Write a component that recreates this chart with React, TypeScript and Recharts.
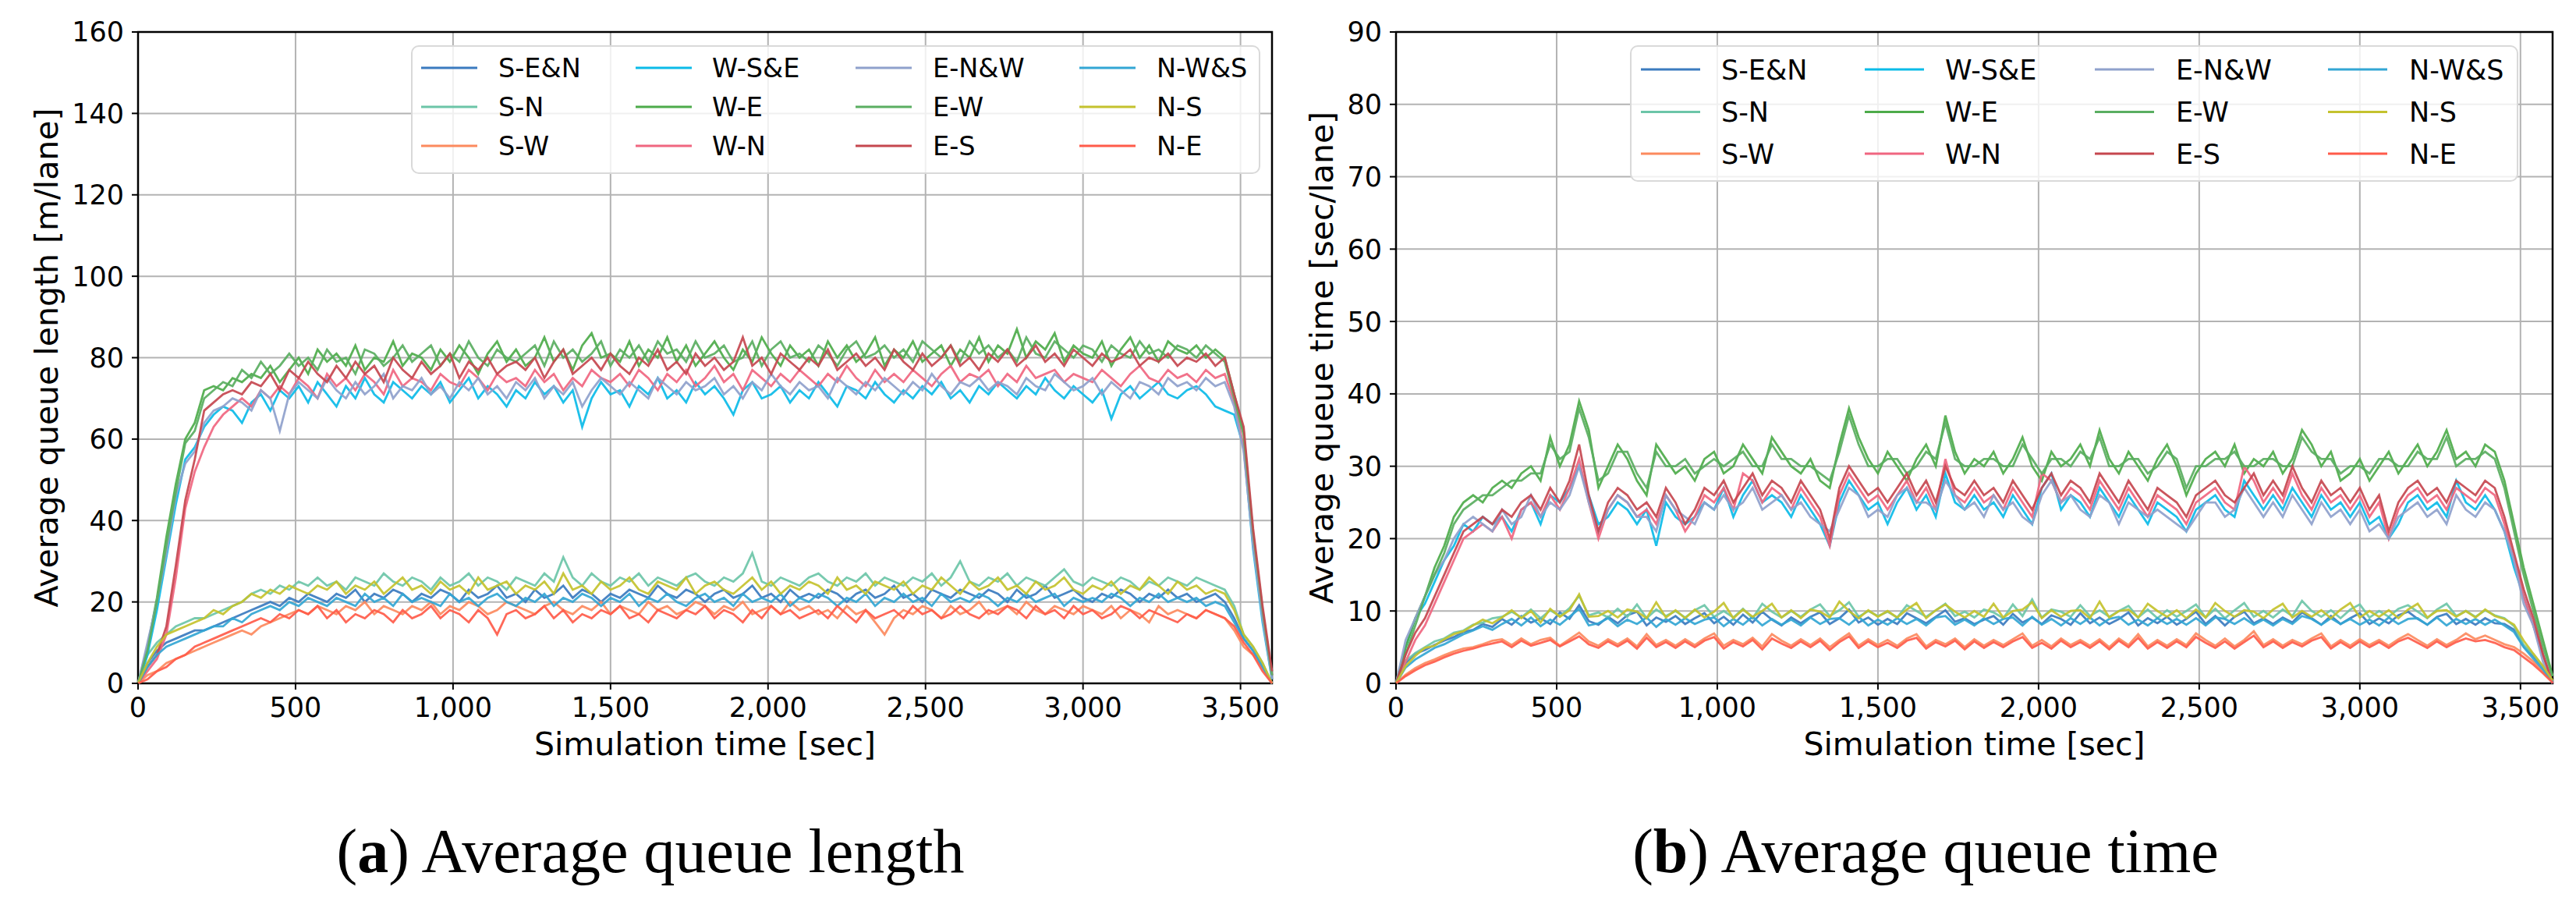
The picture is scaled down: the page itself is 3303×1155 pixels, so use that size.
import { CartesianGrid, Line, LineChart, ReferenceArea, XAxis, YAxis } from 'recharts';

// sampling grid: one reading every 30 s over the one-hour run
const TIME = Array.from({ length: 121 }, (_, i) => i * 30);

const ROUTES = ['S-E&N', 'S-N', 'S-W', 'W-S&E', 'W-E', 'W-N', 'E-N&W', 'E-W', 'E-S', 'N-W&S', 'N-S', 'N-E'];
const COLORS = [
  '#3b7bbf', '#6cc5a8', '#fc8a5e', '#0bbbe8', '#4dab4a', '#f06680',
  '#8fa1cc', '#5aae61', '#c5474f', '#33a6d4', '#c4c22e', '#ff5b4a',
];

const X_TICKS = [0, 500, 1000, 1500, 2000, 2500, 3000, 3500];
const LENGTH_TICKS = [0, 20, 40, 60, 80, 100, 120, 140, 160];
const WAIT_TICKS = [0, 10, 20, 30, 40, 50, 60, 70, 80, 90];

// (a) average queue length [m/lane]
const LEN_S_EN = [0,
  5, 8, 10, 11, 12, 13, 13, 14, 15, 16,
  17, 18, 19, 20, 19, 21, 20, 22, 21, 20,
  22, 21, 23, 20, 22, 21, 23, 22, 20, 22,
  21, 23, 22, 20, 23, 21, 22, 24, 21, 22,
  20, 23, 21, 22, 24, 21, 23, 22, 20, 22,
  21, 23, 22, 21, 24, 22, 21, 23, 22, 20,
  22, 23, 21, 22, 24, 21, 22, 20, 23, 21,
  22, 21, 23, 22, 20, 22, 23, 21, 22, 24,
  21, 22, 20, 23, 22, 21, 23, 22, 21, 23,
  22, 20, 23, 21, 22, 24, 21, 22, 23, 21,
  20, 22, 21, 23, 22, 20, 22, 21, 23, 21,
  22, 20, 21, 22, 20, 16, 11, 8, 4, 0];
const LEN_S_N = [0,
  7, 10, 12, 14, 15, 16, 16, 17, 18, 19,
  20, 22, 23, 22, 24, 23, 25, 24, 26, 24,
  25, 23, 26, 25, 24, 27, 25, 24, 26, 25,
  23, 26, 24, 25, 27, 24, 26, 25, 23, 26,
  25, 24, 27, 25, 31, 26, 24, 27, 25, 24,
  26, 25, 27, 24, 26, 25, 24, 26, 27, 25,
  24, 26, 25, 27, 32, 25, 24, 26, 25, 24,
  26, 27, 25, 24, 26, 25, 27, 24, 26, 25,
  24, 26, 25, 27, 24, 26, 30, 25, 24, 26,
  25, 27, 24, 26, 25, 24, 26, 28, 25, 24,
  26, 25, 24, 26, 25, 23, 25, 24, 26, 25,
  24, 26, 25, 24, 23, 19, 12, 9, 5, 0];
const LEN_S_W = [0,
  2, 3, 5, 6, 7, 8, 9, 10, 11, 12,
  13, 12, 14, 15, 16, 17, 18, 17, 19, 18,
  17, 19, 18, 20, 17, 19, 18, 17, 19, 18,
  20, 17, 19, 18, 20, 19, 17, 18, 20, 19,
  18, 17, 19, 20, 18, 17, 19, 18, 20, 17,
  19, 18, 17, 20, 18, 19, 17, 18, 20, 19,
  17, 19, 18, 20, 17, 18, 19, 17, 20, 18,
  19, 17, 18, 16, 19, 17, 18, 15, 12, 16,
  18, 17, 19, 18, 16, 19, 17, 18, 20, 17,
  18, 19, 17, 20, 18, 17, 19, 18, 17, 19,
  18, 17, 19, 16, 18, 17, 15, 19, 17, 18,
  17, 16, 18, 17, 16, 13, 9, 7, 4, 0];
const LEN_W_SE = [0,
  7, 18, 31, 44, 55, 58, 63, 66, 68, 67,
  64, 69, 71, 67, 72, 70, 73, 69, 74, 71,
  68, 73, 70, 75, 71, 69, 74, 72, 70, 73,
  71, 74, 69, 72, 75, 70, 73, 71, 68, 72,
  70, 74, 71, 73, 69, 72, 63, 70, 74, 71,
  72, 68, 73, 71, 75, 70, 72, 69, 74, 71,
  73, 70, 66, 72, 74, 70, 71, 73, 69, 72,
  70, 74, 71, 68, 73, 72, 70, 74, 71, 69,
  72, 70, 73, 71, 74, 70, 72, 69, 73, 71,
  74, 72, 70, 73, 71, 75, 72, 70, 73, 71,
  69, 72, 65, 71, 73, 70, 72, 74, 71, 70,
  72, 73, 71, 68, 67, 66, 58, 33, 15, 1];
const LEN_W_E = [0,
  9, 21, 36, 49, 60, 64, 72, 73, 72, 75,
  74, 76, 75, 78, 74, 77, 80, 76, 82, 79,
  81, 78, 83, 77, 80, 79, 84, 78, 81, 80,
  77, 82, 79, 83, 80, 76, 81, 84, 79, 82,
  78, 80, 85, 79, 82, 77, 83, 86, 80, 81,
  79, 84, 78, 82, 80, 85, 79, 83, 78, 81,
  84, 80, 77, 82, 79, 85, 81, 78, 83, 80,
  82, 78, 84, 80, 83, 79, 81, 85, 78, 82,
  80, 84, 79, 81, 83, 78, 82, 80, 85, 79,
  83, 81, 87, 80, 84, 82, 86, 79, 83, 81,
  80, 84, 78, 82, 85, 80, 83, 79, 84, 82,
  81, 83, 80, 82, 80, 71, 62, 36, 17, 2];
const LEN_W_N = [0,
  3, 6, 12, 26, 43, 52, 58, 63, 66, 68,
  70, 68, 72, 70, 73, 71, 75, 73, 70, 76,
  73, 75, 72, 76, 74, 71, 77, 73, 75, 74,
  72, 76, 74, 73, 77, 75, 72, 76, 74, 75,
  73, 77, 74, 76, 72, 75, 73, 77, 75, 74,
  76, 73, 77, 75, 72, 76, 74, 77, 73, 75,
  78, 74, 76, 72, 77, 75, 73, 76, 74, 77,
  75, 73, 76, 74, 78, 75, 73, 77, 74, 76,
  74, 77, 75, 73, 76, 78, 74, 76, 75, 77,
  73, 76, 74, 78, 75, 76, 77, 74, 76, 75,
  74, 77, 75, 73, 76, 78, 75, 74, 77, 75,
  76, 74, 77, 75, 76, 69, 58, 35, 17, 2];
const LEN_E_NW = [0,
  10, 20, 32, 46, 54, 57, 64, 67, 68, 70,
  69, 67, 72, 70, 62, 71, 74, 72, 70, 75,
  72, 70, 74, 71, 73, 76, 70, 73, 72, 75,
  71, 73, 70, 74, 72, 75, 71, 73, 70, 74,
  72, 75, 70, 73, 71, 74, 68, 72, 75, 73,
  71, 74, 72, 70, 75, 73, 71, 74, 72, 73,
  75, 71, 73, 70, 74, 72, 76, 73, 71, 74,
  72, 73, 70, 75, 73, 71, 74, 72, 75, 73,
  71, 74, 72, 76, 73, 71, 74, 73, 75, 72,
  74, 73, 71, 75, 73, 72, 76, 74, 72, 73,
  75, 71, 74, 72, 70, 74, 73, 71, 75, 73,
  74, 72, 75, 73, 74, 68, 57, 34, 16, 1];
const LEN_E_W = [0,
  8, 20, 34, 47, 59, 62, 70, 72, 74, 73,
  77, 75, 79, 76, 78, 81, 78, 80, 77, 82,
  79, 80, 76, 82, 81, 78, 80, 83, 79, 81,
  83, 78, 81, 79, 84, 80, 78, 82, 80, 79,
  81, 83, 78, 84, 80, 82, 79, 81, 84, 78,
  82, 80, 83, 79, 84, 81, 82, 79, 84, 80,
  81, 83, 79, 80, 84, 78, 82, 84, 80, 81,
  79, 83, 81, 78, 82, 84, 80, 81, 83, 80,
  82, 79, 84, 82, 80, 83, 79, 84, 81, 83,
  80, 82, 79, 85, 81, 80, 84, 82, 80, 83,
  82, 79, 83, 81, 80, 84, 81, 82, 80, 83,
  82, 80, 83, 81, 79, 70, 61, 37, 18, 2];
const LEN_E_S = [0,
  4, 7, 14, 29, 45, 55, 67, 69, 71, 72,
  71, 74, 73, 76, 72, 77, 75, 79, 76, 74,
  78, 75, 79, 76, 78, 74, 80, 77, 75, 79,
  76, 78, 81, 75, 79, 77, 80, 76, 78, 79,
  77, 80, 75, 79, 82, 76, 78, 80, 77, 81,
  78, 76, 80, 78, 82, 77, 79, 76, 81, 78,
  80, 77, 79, 85, 78, 80, 76, 81, 79, 77,
  80, 78, 82, 77, 79, 81, 78, 80, 77, 82,
  79, 77, 81, 78, 80, 83, 78, 80, 77, 81,
  79, 82, 78, 80, 83, 79, 81, 78, 82, 80,
  78, 81, 79, 80, 82, 78, 80, 79, 81, 78,
  80, 79, 81, 78, 80, 71, 63, 38, 19, 3];
const LEN_N_WS = [0,
  4, 7, 9, 10, 11, 12, 13, 14, 14, 16,
  15, 17, 18, 19, 18, 20, 19, 21, 20, 19,
  21, 20, 19, 22, 20, 21, 19, 22, 20, 21,
  20, 19, 22, 20, 21, 19, 21, 22, 20, 19,
  21, 20, 22, 19, 21, 20, 22, 21, 19, 21,
  20, 22, 19, 21, 20, 22, 20, 19, 21, 22,
  20, 21, 19, 22, 20, 21, 20, 22, 19, 21,
  20, 22, 21, 19, 21, 20, 22, 19, 21, 20,
  22, 20, 21, 19, 22, 20, 21, 20, 22, 21,
  19, 21, 20, 22, 20, 21, 22, 19, 21, 20,
  21, 20, 22, 21, 19, 21, 20, 22, 20, 21,
  20, 21, 19, 20, 19, 15, 11, 8, 4, 0];
const LEN_N_S = [0,
  5, 9, 12, 13, 14, 15, 16, 18, 17, 19,
  20, 22, 21, 23, 22, 24, 23, 22, 24, 23,
  25, 22, 24, 23, 25, 22, 24, 26, 23, 24,
  22, 25, 23, 24, 22, 26, 23, 24, 25, 22,
  24, 23, 25, 22, 27, 23, 24, 22, 25, 23,
  24, 26, 23, 22, 25, 24, 23, 26, 22, 24,
  25, 23, 22, 24, 26, 23, 25, 22, 24, 23,
  25, 24, 22, 26, 23, 24, 22, 25, 24, 23,
  25, 22, 24, 23, 26, 24, 22, 25, 23, 24,
  26, 23, 24, 22, 25, 23, 24, 26, 23, 22,
  24, 23, 25, 22, 24, 23, 26, 24, 22, 25,
  23, 24, 22, 23, 22, 18, 12, 9, 5, 0];
const LEN_N_E = [0,
  1, 3, 4, 6, 7, 9, 10, 11, 12, 13,
  14, 15, 16, 15, 17, 16, 18, 17, 19, 16,
  18, 15, 17, 16, 18, 17, 15, 18, 16, 17,
  19, 16, 18, 17, 15, 18, 16, 12, 17, 18,
  16, 17, 19, 16, 18, 15, 17, 16, 18, 17,
  19, 16, 17, 15, 18, 17, 16, 18, 17, 19,
  16, 18, 17, 15, 18, 16, 19, 17, 18, 16,
  17, 18, 16, 19, 17, 15, 18, 16, 17, 18,
  16, 19, 17, 18, 16, 17, 19, 17, 16, 18,
  17, 19, 18, 16, 19, 17, 18, 16, 19, 17,
  18, 16, 17, 19, 18, 16, 18, 17, 16, 15,
  17, 16, 18, 17, 16, 14, 10, 7, 3, 0];

// (b) average queue time [sec/lane]
const WAIT_S_EN = [0,
  2.8, 4.1, 4.6, 5.3, 5.9, 6.4, 7.1, 7.4, 8.2, 7.8,
  8.9, 8.1, 9.3, 8.4, 9.0, 8.2, 9.8, 8.9, 10.8, 8.6,
  8.1, 9.2, 8.3, 9.4, 9.9, 8.0, 9.1, 8.5, 9.3, 8.2,
  9.0, 9.7, 8.3, 9.2, 8.1, 9.5, 8.4, 9.9, 8.8, 8.0,
  9.1, 8.3, 9.2, 9.8, 8.2, 9.0, 10.2, 8.4, 9.1, 8.1,
  8.9, 8.2, 9.7, 9.0, 8.3, 9.2, 10.1, 8.5, 9.0, 8.2,
  8.8, 9.3, 8.1, 9.6, 8.4, 9.1, 8.2, 9.4, 8.9, 8.1,
  9.7, 8.3, 9.1, 8.2, 8.9, 9.8, 8.0, 9.0, 8.3, 9.2,
  8.1, 8.9, 9.9, 8.2, 9.3, 8.0, 9.2, 9.9, 8.3, 9.0,
  8.2, 9.1, 8.4, 9.8, 9.0, 8.1, 9.3, 8.2, 9.0, 9.7,
  8.2, 9.0, 8.3, 9.4, 9.9, 8.9, 8.1, 9.2, 9.6, 8.2,
  8.9, 8.1, 9.0, 8.3, 8.2, 7.4, 5.1, 3.8, 2.2, 0.3];
const WAIT_S_N = [0,
  3.1, 4.2, 5.0, 5.8, 6.2, 7.0, 7.3, 8.1, 8.4, 9.0,
  9.2, 9.9, 9.1, 10.2, 9.0, 10.1, 9.3, 10.4, 12.1, 9.4,
  9.8, 9.1, 10.3, 9.2, 10.9, 9.0, 10.2, 9.3, 10.0, 9.1,
  10.1, 10.8, 9.2, 10.0, 9.1, 10.3, 9.0, 11.0, 9.9, 9.1,
  10.0, 9.2, 10.2, 10.9, 9.3, 10.1, 11.2, 9.2, 10.0, 9.3,
  9.9, 9.1, 10.8, 10.0, 9.2, 10.1, 11.0, 9.3, 9.9, 9.1,
  10.2, 9.8, 9.0, 10.9, 9.3, 11.6, 9.1, 10.2, 9.9, 9.2,
  10.8, 9.3, 10.1, 9.2, 10.0, 10.7, 9.1, 10.2, 9.0, 10.1,
  9.2, 10.0, 10.9, 9.1, 10.3, 9.0, 10.1, 11.1, 9.2, 10.0,
  9.1, 10.2, 9.3, 11.4, 10.0, 9.2, 10.1, 9.0, 10.2, 10.9,
  9.1, 10.0, 9.2, 10.3, 10.8, 9.9, 9.0, 10.2, 11.0, 9.3,
  10.0, 9.2, 10.1, 9.4, 9.0, 7.9, 5.3, 4.0, 2.3, 0.3];
const WAIT_S_W = [0,
  1.2, 2.1, 2.8, 3.3, 3.9, 4.4, 4.8, 5.0, 5.4, 5.9,
  6.1, 5.3, 6.2, 5.4, 6.0, 6.3, 5.2, 6.1, 7.0, 5.8,
  5.2, 6.1, 5.4, 6.2, 5.1, 6.8, 5.3, 6.0, 5.2, 6.1,
  5.3, 6.2, 6.9, 5.2, 6.0, 5.4, 6.3, 5.1, 6.8, 5.9,
  5.2, 6.1, 5.3, 6.2, 5.0, 6.0, 6.9, 5.2, 6.1, 5.3,
  6.0, 5.2, 6.2, 6.8, 5.1, 6.0, 5.4, 6.2, 5.0, 6.1,
  5.2, 6.0, 5.3, 6.1, 6.9, 5.2, 6.0, 5.1, 6.2, 5.3,
  6.0, 5.2, 6.1, 5.0, 6.2, 5.3, 6.8, 5.1, 6.0, 5.2,
  6.1, 5.3, 6.9, 6.0, 5.2, 6.2, 5.1, 6.0, 7.2, 5.3,
  6.1, 5.2, 6.0, 5.4, 6.2, 6.9, 5.1, 6.0, 5.2, 6.1,
  5.3, 6.0, 5.2, 6.1, 6.8, 6.0, 5.2, 6.1, 5.3, 6.0,
  6.9, 6.1, 6.6, 6.0, 5.4, 5.0, 4.1, 3.0, 1.7, 0.2];
const WAIT_W_SE = [0,
  5, 9, 11, 14, 17, 19, 22, 21, 23, 22,
  23, 21, 24, 25, 22, 26, 25, 27, 30, 26,
  22, 23, 25, 24, 22, 24, 19, 25, 23, 22,
  23, 25, 24, 27, 23, 26, 28, 25, 26, 25,
  23, 26, 24, 22, 19, 25, 28, 26, 24, 25,
  22, 25, 27, 24, 26, 23, 29, 25, 24, 26,
  24, 25, 23, 26, 24, 22, 27, 29, 24, 26,
  25, 23, 27, 25, 23, 26, 24, 22, 25, 24,
  23, 21, 24, 25, 26, 24, 23, 28, 26, 24,
  26, 24, 27, 25, 23, 26, 24, 25, 23, 25,
  22, 23, 20, 22, 25, 26, 24, 25, 23, 28,
  25, 24, 26, 24, 21, 16, 12, 8, 4, 0];
const WAIT_W_E = [0,
  5, 9, 12, 16, 19, 23, 25, 26, 25, 27,
  28, 27, 29, 30, 28, 34, 30, 33, 39, 35,
  27, 30, 33, 31, 28, 26, 33, 31, 29, 30,
  28, 31, 32, 29, 30, 33, 31, 29, 34, 32,
  30, 29, 31, 28, 27, 33, 38, 34, 31, 29,
  32, 30, 28, 31, 33, 30, 37, 32, 29, 31,
  30, 32, 29, 31, 34, 30, 28, 32, 30, 31,
  33, 30, 35, 31, 29, 32, 30, 28, 31, 33,
  30, 26, 29, 31, 32, 30, 33, 29, 31, 30,
  32, 29, 31, 35, 33, 30, 32, 28, 29, 31,
  28, 30, 32, 29, 31, 33, 30, 32, 35, 31,
  32, 30, 33, 32, 28, 22, 16, 11, 6, 1];
const WAIT_W_N = [0,
  3, 6, 8, 11, 14, 17, 20, 21, 22, 21,
  23, 20, 24, 25, 23, 26, 24, 27, 31, 25,
  20, 24, 26, 25, 23, 24, 22, 26, 24, 21,
  23, 26, 25, 27, 24, 29, 28, 25, 27, 26,
  24, 27, 25, 23, 19, 26, 29, 27, 25, 26,
  24, 26, 28, 25, 27, 24, 31, 26, 25, 27,
  25, 26, 24, 27, 25, 23, 29, 28, 25, 27,
  26, 24, 28, 26, 24, 27, 25, 23, 26, 25,
  24, 22, 25, 26, 27, 25, 24, 30, 28, 25,
  27, 25, 29, 26, 24, 27, 25, 26, 24, 26,
  23, 25, 20, 24, 26, 27, 25, 26, 24, 27,
  26, 25, 27, 26, 22, 17, 12, 8, 4, 0];
const WAIT_E_NW = [0,
  6, 9, 12, 15, 17, 20, 22, 23, 22, 21,
  24, 22, 23, 26, 23, 25, 24, 26, 30, 25,
  21, 24, 26, 25, 23, 23, 21, 26, 24, 23,
  22, 25, 24, 26, 24, 25, 27, 24, 25, 26,
  24, 25, 23, 22, 21, 24, 27, 26, 23, 24,
  23, 26, 27, 25, 25, 24, 28, 26, 24, 25,
  23, 26, 24, 25, 23, 22, 26, 28, 25, 26,
  24, 23, 26, 25, 22, 25, 24, 23, 24, 23,
  22, 21, 23, 25, 25, 23, 24, 27, 25, 23,
  25, 23, 26, 24, 22, 25, 23, 24, 22, 24,
  21, 22, 20, 23, 24, 25, 23, 24, 22, 26,
  24, 23, 25, 24, 21, 17, 11, 8, 3, 0];
const WAIT_E_W = [0,
  4, 8, 12, 15, 18, 22, 24, 25, 26, 26,
  27, 28, 28, 29, 29, 33, 31, 32, 38, 34,
  28, 29, 32, 32, 29, 27, 32, 30, 30, 31,
  29, 30, 31, 30, 31, 32, 30, 30, 33, 31,
  31, 30, 30, 29, 28, 32, 37, 33, 30, 30,
  31, 31, 29, 30, 32, 31, 36, 31, 30, 30,
  31, 31, 30, 30, 33, 31, 29, 31, 31, 30,
  32, 31, 34, 30, 30, 31, 31, 29, 30, 32,
  31, 27, 30, 30, 31, 31, 32, 30, 30, 31,
  31, 30, 30, 34, 32, 31, 31, 29, 30, 30,
  29, 31, 31, 30, 30, 32, 31, 31, 34, 30,
  31, 31, 32, 31, 27, 21, 15, 10, 5, 1];
const WAIT_E_S = [0,
  4, 7, 9, 12, 15, 18, 21, 22, 23, 22,
  24, 23, 25, 26, 24, 27, 25, 28, 33, 26,
  21, 25, 27, 26, 24, 25, 23, 27, 25, 22,
  24, 27, 26, 28, 25, 27, 29, 26, 28, 27,
  25, 28, 26, 24, 20, 27, 30, 28, 26, 27,
  25, 27, 29, 26, 28, 25, 30, 27, 26, 28,
  26, 27, 25, 28, 26, 24, 27, 29, 26, 28,
  27, 25, 29, 27, 25, 28, 26, 24, 27, 26,
  25, 23, 26, 27, 28, 26, 25, 27, 29, 26,
  28, 26, 30, 27, 25, 28, 26, 27, 25, 27,
  24, 26, 21, 25, 27, 28, 26, 27, 25, 28,
  27, 26, 28, 27, 23, 18, 13, 9, 4, 0];
const WAIT_N_WS = [0,
  2.2, 3.3, 4.1, 4.9, 5.4, 6.1, 6.8, 7.3, 7.9, 7.4,
  8.2, 8.9, 8.0, 9.1, 7.9, 8.8, 8.1, 9.2, 10.3, 8.0,
  8.3, 9.0, 7.9, 8.8, 8.2, 9.1, 7.8, 8.9, 8.1, 9.0,
  8.2, 8.8, 9.1, 7.9, 8.9, 8.1, 9.2, 8.0, 8.9, 8.1,
  8.8, 8.0, 9.1, 8.2, 8.9, 9.0, 8.1, 9.2, 8.0, 8.8,
  8.1, 9.0, 8.2, 8.9, 8.0, 9.1, 9.3, 8.1, 8.8, 8.0,
  9.0, 8.2, 8.9, 9.1, 8.0, 9.2, 8.1, 8.9, 8.0, 9.0,
  8.2, 9.1, 8.0, 8.9, 9.2, 8.1, 8.8, 8.0, 9.0, 8.2,
  8.9, 8.1, 9.0, 8.0, 9.1, 8.9, 8.2, 9.0, 8.1, 8.8,
  8.0, 8.9, 8.2, 9.3, 8.9, 8.1, 9.0, 8.2, 8.9, 8.1,
  8.8, 8.0, 9.1, 8.2, 8.9, 9.0, 8.1, 9.1, 8.0, 8.9,
  8.2, 8.9, 8.1, 8.8, 8.0, 7.1, 5.0, 3.4, 1.9, 0.2];
const WAIT_N_S = [0,
  2.4, 3.8, 4.9, 5.2, 6.1, 6.8, 7.2, 8.0, 8.8, 8.3,
  9.1, 10.1, 9.0, 10.0, 8.4, 10.3, 9.2, 10.1, 12.3, 9.2,
  9.3, 10.0, 9.1, 10.2, 9.9, 9.0, 11.2, 9.1, 10.1, 9.0,
  10.2, 9.1, 9.9, 11.1, 9.0, 10.2, 9.2, 10.0, 11.0, 9.1,
  10.1, 9.0, 10.2, 9.9, 9.1, 11.3, 10.0, 9.0, 10.1, 9.2,
  10.0, 9.1, 10.2, 11.1, 9.0, 10.1, 10.9, 9.9, 9.1, 10.0,
  9.2, 11.0, 9.1, 10.0, 10.2, 11.2, 9.0, 10.1, 9.2, 10.0,
  10.1, 9.0, 11.3, 9.1, 10.0, 10.2, 9.1, 11.0, 10.0, 9.2,
  10.1, 9.0, 10.2, 9.1, 11.1, 10.0, 9.2, 10.1, 9.9, 9.0,
  10.2, 11.0, 9.1, 10.0, 9.2, 10.1, 9.0, 10.2, 11.1, 9.1,
  10.0, 9.2, 10.1, 9.0, 10.2, 11.0, 9.1, 10.0, 10.1, 9.2,
  10.0, 9.1, 10.2, 9.3, 8.9, 8.1, 5.9, 4.1, 2.4, 0.4];
const WAIT_N_E = [0,
  1.0, 1.8, 2.5, 3.0, 3.6, 4.1, 4.5, 4.8, 5.2, 5.5,
  5.8, 5.0, 5.9, 5.2, 5.6, 6.0, 5.1, 5.8, 6.5, 5.4,
  4.9, 5.8, 5.1, 5.9, 4.8, 6.3, 5.0, 5.7, 4.9, 5.8,
  5.0, 5.9, 6.4, 4.8, 5.7, 5.1, 6.0, 4.7, 6.2, 5.5,
  4.9, 5.8, 5.0, 5.9, 4.6, 5.7, 6.5, 4.9, 5.8, 5.0,
  5.6, 4.9, 5.9, 6.3, 4.8, 5.7, 5.1, 5.9, 4.7, 5.8,
  4.9, 5.7, 5.0, 5.8, 6.4, 4.9, 5.6, 4.8, 5.9, 5.0,
  5.7, 4.9, 5.8, 4.7, 5.9, 5.0, 6.3, 4.8, 5.7, 4.9,
  5.8, 5.0, 6.4, 5.6, 4.9, 5.8, 4.8, 5.7, 6.6, 5.0,
  5.8, 4.9, 5.7, 5.1, 5.9, 6.4, 4.8, 5.7, 4.9, 5.8,
  5.0, 5.7, 4.9, 5.8, 6.3, 5.6, 4.9, 5.8, 5.0, 5.7,
  6.2, 5.8, 6.0, 5.6, 5.0, 4.6, 3.6, 2.6, 1.4, 0.1];

const LENGTH_SERIES = [
  LEN_S_EN, LEN_S_N, LEN_S_W, LEN_W_SE, LEN_W_E, LEN_W_N,
  LEN_E_NW, LEN_E_W, LEN_E_S, LEN_N_WS, LEN_N_S, LEN_N_E,
];
const WAIT_SERIES = [
  WAIT_S_EN, WAIT_S_N, WAIT_S_W, WAIT_W_SE, WAIT_W_E, WAIT_W_N,
  WAIT_E_NW, WAIT_E_W, WAIT_E_S, WAIT_N_WS, WAIT_N_S, WAIT_N_E,
];

const toRows = (series: number[][]) =>
  TIME.map((t, i) => {
    const row: Record<string, number> = { t };
    series.forEach((s, k) => {
      row[`r${k}`] = s[i];
    });
    return row;
  });

const FONT = 'DejaVu Sans, Verdana, sans-serif';
const TICK_STYLE = { fill: '#000', fontSize: 35, fontFamily: FONT };

interface PanelProps {
  left: number;
  width: number;
  data: Record<string, number>[];
  yMax: number;
  yTicks: number[];
  yLabel: string;
  yLabelOffset: number;
}

const Panel = ({ left, width, data, yMax, yTicks, yLabel, yLabelOffset }: PanelProps) => (
  <div style={{ position: 'absolute', left, top: 0 }}>
    <LineChart width={width} height={1000} data={data} margin={{ top: 41, right: 20, bottom: 0, left: 0 }}>
      <CartesianGrid stroke="#b3b3b3" strokeWidth={2} />
      <XAxis
        dataKey="t"
        type="number"
        domain={[0, 3600]}
        ticks={X_TICKS}
        interval={0}
        tickFormatter={(v: number) => v.toLocaleString('en-US')}
        tick={TICK_STYLE}
        tickSize={8}
        tickMargin={10}
        tickLine={{ stroke: '#000', strokeWidth: 2 }}
        axisLine={false}
        height={124}
        label={{
          value: 'Simulation time [sec]',
          position: 'insideBottom',
          offset: 32,
          fill: '#000',
          fontSize: 41,
          fontFamily: FONT,
        }}
      />
      <YAxis
        type="number"
        domain={[0, yMax]}
        ticks={yTicks}
        interval={0}
        tick={TICK_STYLE}
        tickSize={8}
        tickMargin={10}
        tickLine={{ stroke: '#000', strokeWidth: 2 }}
        axisLine={false}
        width={177}
        label={{
          value: yLabel,
          angle: -90,
          position: 'insideLeft',
          offset: yLabelOffset,
          fill: '#000',
          fontSize: 41,
          fontFamily: FONT,
          style: { textAnchor: 'middle' },
        }}
      />
      {ROUTES.map((name, k) => (
        <Line
          key={name}
          name={name}
          type="linear"
          dataKey={`r${k}`}
          stroke={COLORS[k]}
          strokeWidth={2.8}
          strokeOpacity={0.92}
          dot={false}
          activeDot={false}
          isAnimationActive={false}
        />
      ))}
      <ReferenceArea
        x1={0}
        x2={3600}
        y1={0}
        y2={yMax}
        fill="none"
        stroke="#000"
        strokeWidth={2.5}
        ifOverflow="visible"
      />
    </LineChart>
  </div>
);

interface LegendProps {
  x: number;
  y: number;
  w: number;
  h: number;
  handleX: number[];
  textX: number[];
  rowY: number[];
  handleLen: number;
  fontSize: number;
}

// matplotlib-style 4 x 3 legend, filled column by column
const LegendBox = ({ x, y, w, h, handleX, textX, rowY, handleLen, fontSize }: LegendProps) => (
  <g>
    <rect x={x} y={y} width={w} height={h} rx={9} fill="#fff" fillOpacity={0.8} stroke="#d9d9d9" strokeWidth={2} />
    {ROUTES.map((name, i) => {
      const col = Math.floor(i / 3);
      const row = i % 3;
      return (
        <g key={name}>
          <line
            x1={handleX[col]}
            x2={handleX[col] + handleLen}
            y1={rowY[row]}
            y2={rowY[row]}
            stroke={COLORS[i]}
            strokeWidth={3}
          />
          <text x={textX[col]} y={rowY[row] + fontSize * 0.364} fontSize={fontSize} fontFamily={FONT} fill="#000">
            {name}
          </text>
        </g>
      );
    })}
  </g>
);

const App = () => {
  const lengthRows = toRows(LENGTH_SERIES);
  const waitRows = toRows(WAIT_SERIES);

  return (
    <div style={{ position: 'absolute', left: 0, top: 0, width: 3303, height: 1155, background: '#fff', overflow: 'hidden' }}>
      <Panel
        left={0}
        width={1651}
        data={lengthRows}
        yMax={160}
        yTicks={LENGTH_TICKS}
        yLabel="Average queue length [m/lane]"
        yLabelOffset={59}
      />
      <Panel
        left={1613}
        width={1680}
        data={waitRows}
        yMax={90}
        yTicks={WAIT_TICKS}
        yLabel="Average queue time [sec/lane]"
        yLabelOffset={81}
      />
      <svg width={3303} height={1155} style={{ position: 'absolute', left: 0, top: 0, pointerEvents: 'none' }}>
        <LegendBox
          x={528}
          y={59}
          w={1087}
          h={163}
          handleX={[540, 815, 1097, 1384]}
          textX={[639, 913, 1196, 1483]}
          rowY={[87, 137, 187]}
          handleLen={72}
          fontSize={33.5}
        />
        <LegendBox
          x={2091}
          y={59}
          w={1137}
          h={173}
          handleX={[2104, 2391, 2686, 2985]}
          textX={[2207, 2494, 2790, 3089]}
          rowY={[89, 143.5, 197]}
          handleLen={76}
          fontSize={35}
        />
        <text x={834} y={1118} textAnchor="middle" fontFamily="Liberation Serif, serif" fontSize={80} fill="#000">
          (<tspan fontWeight="bold">a</tspan>) Average queue length
        </text>
        <text x={2469} y={1118} textAnchor="middle" fontFamily="Liberation Serif, serif" fontSize={80} fill="#000">
          (<tspan fontWeight="bold">b</tspan>) Average queue time
        </text>
      </svg>
    </div>
  );
};

export default App;
